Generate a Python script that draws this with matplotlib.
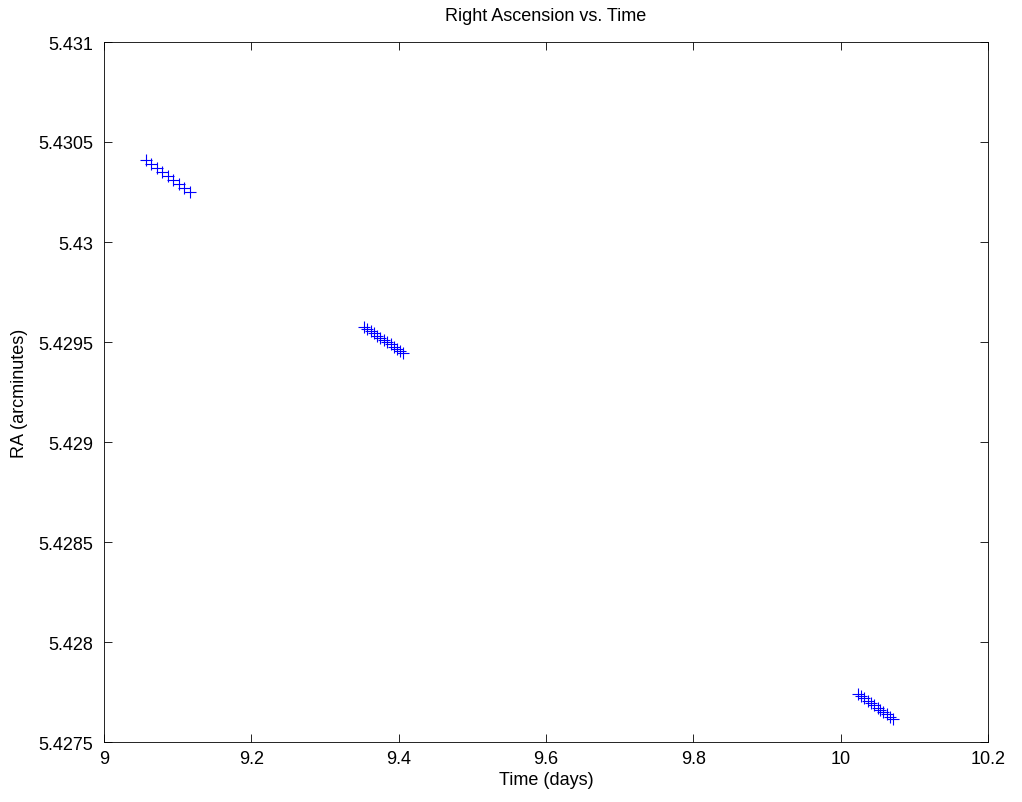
import matplotlib
matplotlib.use('Agg')
import matplotlib.pyplot as plt

# time (days) and right ascension (arcminutes) for the three nights
t1 = [9.057, 9.064, 9.072, 9.079, 9.087, 9.094, 9.102, 9.109, 9.117]
ra1 = [5.43041, 5.43039, 5.43037, 5.43035, 5.43033, 5.43031, 5.43029, 5.43027, 5.43025]

t2 = [9.353, 9.357, 9.362, 9.366, 9.371, 9.375, 9.380, 9.384, 9.389, 9.393, 9.398, 9.402, 9.406]
ra2 = [5.429575, 5.429565, 5.429554, 5.429543, 5.429532, 5.429521, 5.429510, 5.429499,
       5.429488, 5.429477, 5.429466, 5.429455, 5.429445]

t3 = [10.024, 10.028, 10.032, 10.037, 10.041, 10.045, 10.050, 10.054, 10.058, 10.063, 10.067, 10.071]
ra3 = [5.42774, 5.427729, 5.427718, 5.427706, 5.427695, 5.427684, 5.427672, 5.427661,
       5.42765, 5.427638, 5.427627, 5.427615]

xticks = [9, 9.2, 9.4, 9.6, 9.8, 10, 10.2]
xlabels = ['9', '9.2', '9.4', '9.6', '9.8', '10', '10.2']
yticks = [5.4275, 5.428, 5.4285, 5.429, 5.4295, 5.43, 5.4305, 5.431]
ylabels = ['5.4275', '5.428', '5.4285', '5.429', '5.4295', '5.43', '5.4305', '5.431']

plt.rcParams['font.family'] = ['Liberation Sans', 'DejaVu Sans']
fs = 13
fig = plt.figure(figsize=(10.22, 8.03), dpi=100)
ax = fig.add_axes([104 / 1022, 60 / 803, 884 / 1022, 700 / 803])

for t, ra in [(t1, ra1), (t2, ra2), (t3, ra3)]:
    ax.plot(t, ra, '+', color='blue', markersize=8, markeredgewidth=0.8, linestyle='none')

ax.set_xlim(9, 10.2)
ax.set_ylim(5.4275, 5.431)
ax.set_xticks(xticks)
ax.set_xticklabels(xlabels)
ax.set_yticks(yticks)
ax.set_yticklabels(ylabels)
ax.tick_params(direction='in', top=True, right=True, labelsize=fs, length=6, width=0.6)
ax.tick_params(axis='x', pad=6)
ax.tick_params(axis='y', pad=8)
for s in ax.spines.values():
    s.set_linewidth(0.6)

ax.set_title('Right Ascension vs. Time', fontsize=fs, pad=16)
ax.set_xlabel('Time (days)', fontsize=fs, labelpad=3)
ax.set_ylabel('RA (arcminutes)', fontsize=fs, labelpad=7)

fig.savefig('out.png', dpi=100)
